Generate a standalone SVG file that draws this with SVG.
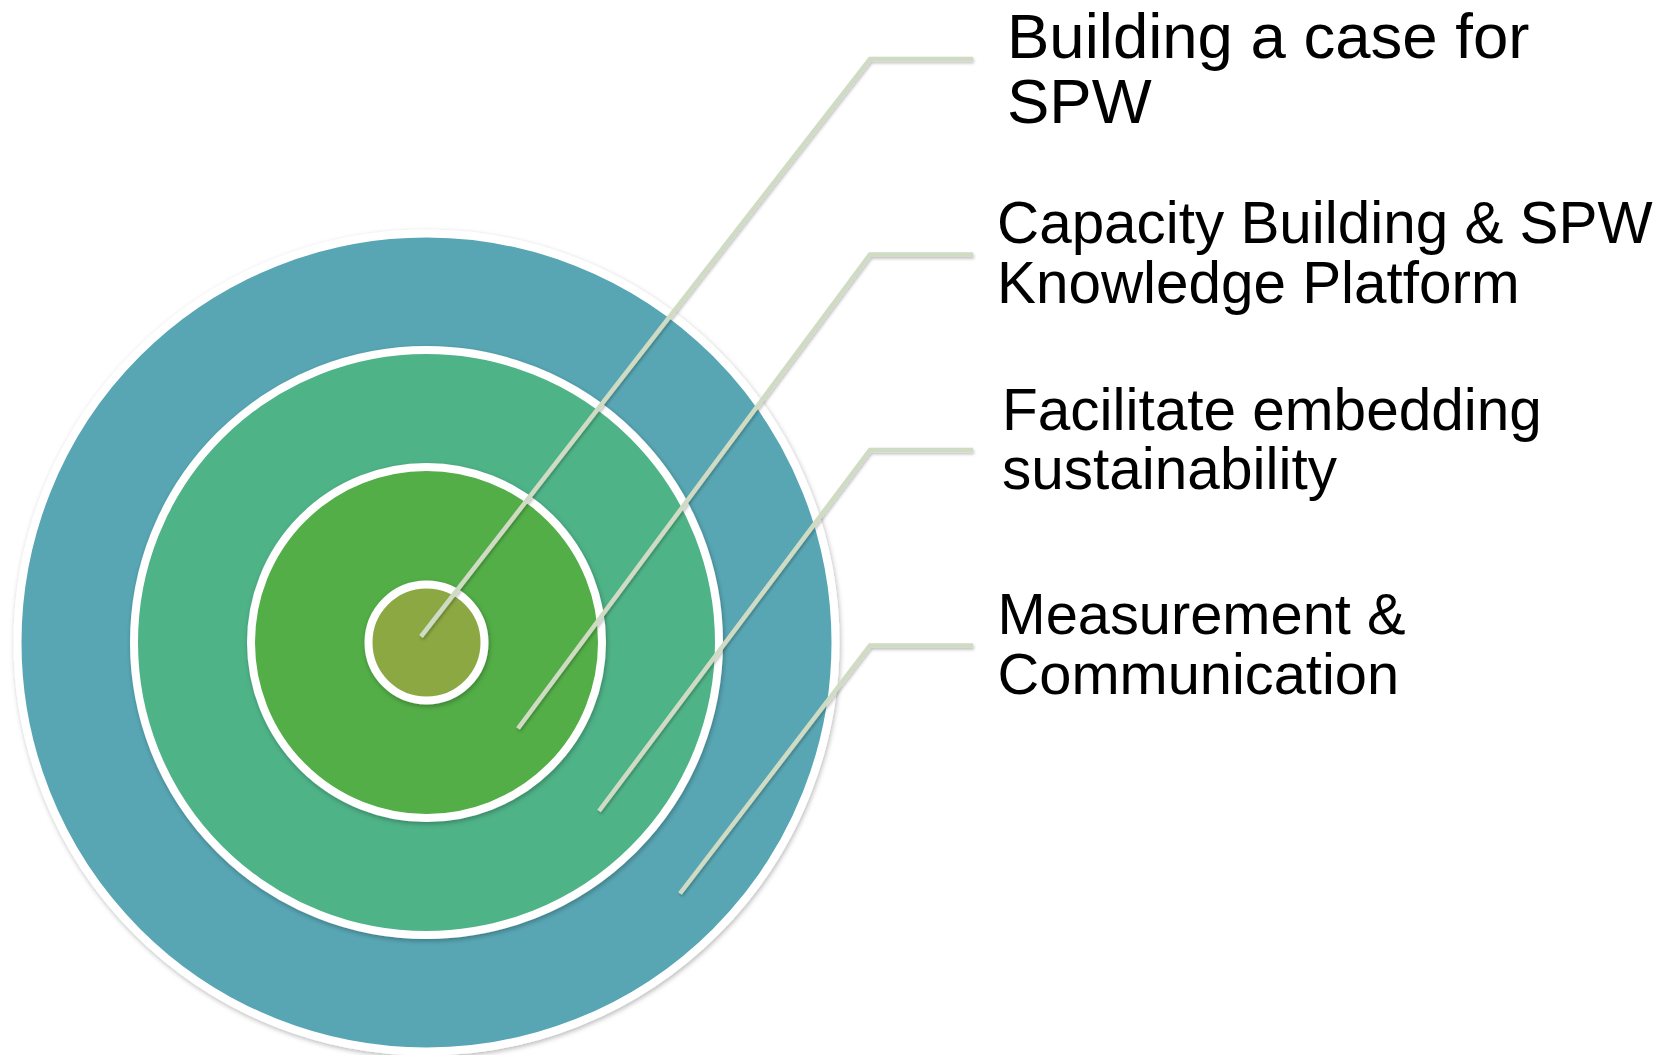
<svg xmlns="http://www.w3.org/2000/svg" width="1672" height="1055" viewBox="0 0 1672 1055">
  <defs>
    <filter id="sh" x="-10%" y="-10%" width="120%" height="120%">
      <feDropShadow dx="1" dy="2" stdDeviation="2.5" flood-color="#000" flood-opacity="0.28"/>
    </filter>
    <filter id="lsh" x="-10%" y="-10%" width="120%" height="120%">
      <feDropShadow dx="1" dy="2" stdDeviation="1.5" flood-color="#000" flood-opacity="0.25"/>
    </filter>
  </defs>
  <style>
    .ring { stroke: #ffffff; stroke-width: 8; filter: url(#sh); }
    .conn { fill: none; stroke: #CFDCC3; stroke-width: 4.5; stroke-linejoin: miter; stroke-linecap: butt; filter: url(#lsh); }
    .lbl { font-family: "Liberation Sans", Arial, sans-serif; fill: #000000; }
  </style>
  <rect width="1672" height="1055" fill="#ffffff"/>

  <g id="ring-measurement">
    <circle class="ring" cx="426.5" cy="642.5" r="409" fill="#58A6B4"/>
  </g>
  <g id="ring-facilitate">
    <circle class="ring" cx="426.5" cy="642.5" r="292.5" fill="#4FB388"/>
  </g>
  <g id="ring-capacity">
    <circle class="ring" cx="426.5" cy="642.5" r="175.5" fill="#52AE47"/>
  </g>
  <g id="ring-building">
    <circle class="ring" cx="426.5" cy="642.5" r="58" fill="#8BA843"/>
  </g>

  <g id="connectors">
    <polyline class="conn" points="421,636.5 870,59 973,59"/>
    <polyline class="conn" points="518,728.5 870,254.5 973,254.5"/>
    <polyline class="conn" points="599,811 870,450 973,450"/>
    <polyline class="conn" points="680,893.5 870,645.5 973,645.5"/>
  </g>

  <g id="label-building">
    <text class="lbl" font-size="63.5" x="1007" y="58.3">Building a case for</text>
    <text class="lbl" font-size="63.5" x="1007" y="123.3">SPW</text>
  </g>
  <g id="label-capacity">
    <text class="lbl" font-size="58.4" x="997" y="243.3">Capacity Building &amp; SPW</text>
    <text class="lbl" font-size="58.4" x="997" y="302.7">Knowledge Platform</text>
  </g>
  <g id="label-facilitate">
    <text class="lbl" font-size="58.5" x="1002" y="430">Facilitate embedding</text>
    <text class="lbl" font-size="58.5" x="1002" y="489">sustainability</text>
  </g>
  <g id="label-measurement">
    <text class="lbl" font-size="57.8" x="997.5" y="633.5">Measurement &amp;</text>
    <text class="lbl" font-size="57.8" x="997.5" y="693.5">Communication</text>
  </g>
</svg>
